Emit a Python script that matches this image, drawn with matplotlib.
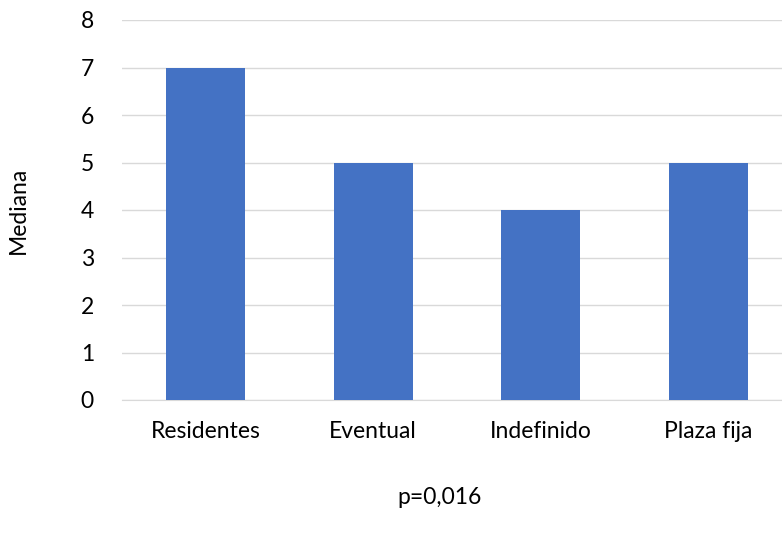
import matplotlib.pyplot as plt

categorias = ["Residentes", "Eventual", "Indefinido", "Plaza fija"]
medianas = [7, 5, 4, 5]

plt.rcParams['font.family'] = ['Lato', 'DejaVu Sans']

fig = plt.figure(figsize=(7.82, 5.38), dpi=100)
ax = fig.add_axes([121.7 / 782, 138 / 538, 670.6 / 782, 380 / 538])

ax.bar(range(len(categorias)), medianas, width=0.47, color="#4472C4", zorder=3)
ax.set_xlim(-0.5, len(categorias) - 0.5)
ax.set_ylim(0, 8)
ax.set_yticks(range(0, 9))
ax.set_xticks(range(len(categorias)))
ax.set_xticklabels(categorias)
ax.grid(axis="y", color="#d9d9d9", linewidth=1, zorder=0)
for s in ["top", "right", "left"]:
    ax.spines[s].set_visible(False)
ax.spines["bottom"].set_color("#d9d9d9")
ax.tick_params(axis="both", length=0, labelsize=16.5, colors="black")
ax.tick_params(axis="y", pad=20)
ax.tick_params(axis="x", pad=15)

fig.text(18 / 782, 1 - 210 / 538, "Mediana", rotation=90, ha="center", va="center", fontsize=16.5)
fig.text(440 / 782, 1 - 497 / 538, "p=0,016", ha="center", va="center", fontsize=16.5)

fig.savefig("out.png", dpi=100)
